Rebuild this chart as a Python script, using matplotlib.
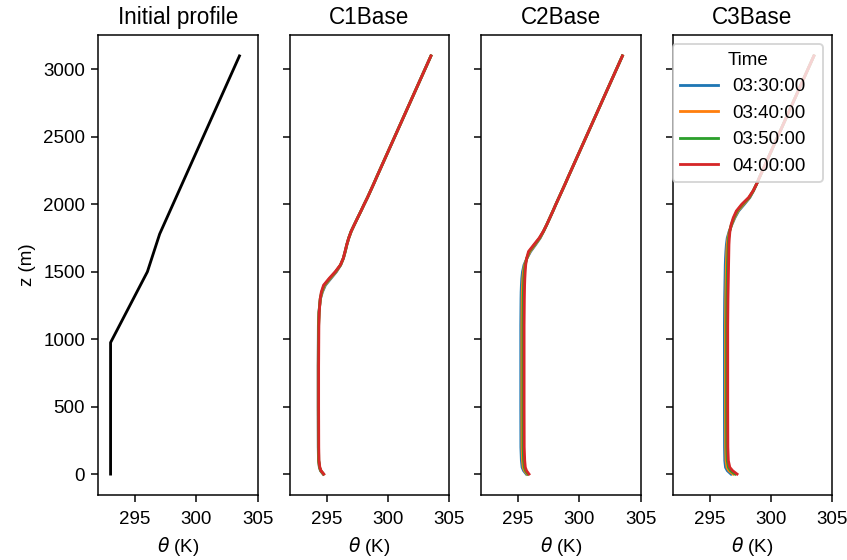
import matplotlib
matplotlib.use("Agg")
import matplotlib.pyplot as plt

plt.rcParams['font.family'] = ['Liberation Sans', 'DejaVu Sans']

# ---- data -------------------------------------------------------------
z_init = [0, 975, 1500, 1780, 3100]
theta_init = [293.0, 293.0, 296.0, 297.0, 303.5]

z_levels = [0, 25, 50, 100, 200, 500, 800, 1100, 1200, 1300, 1350, 1400, 1450,
            1500, 1550, 1600, 1650, 1700, 1750, 1800, 1850, 1900, 1950, 2000,
            2050, 2100, 2150, 2200, 3100]

times = ["03:30:00", "03:40:00", "03:50:00", "04:00:00"]
cases = ["C1Base", "C2Base", "C3Base"]

c1_0330 = [294.72, 294.50, 294.41, 294.34, 294.32, 294.31, 294.31, 294.33, 294.37, 294.50, 294.66, 294.90, 295.35, 295.80, 296.15, 296.37, 296.52, 296.65, 296.81, 297.01, 297.27, 297.53, 297.80, 298.06, 298.33, 298.58, 298.83, 299.07, 303.50]
c1_0340 = [294.73, 294.52, 294.42, 294.35, 294.33, 294.32, 294.32, 294.34, 294.38, 294.49, 294.63, 294.85, 295.30, 295.77, 296.14, 296.37, 296.52, 296.65, 296.81, 297.01, 297.27, 297.53, 297.80, 298.06, 298.33, 298.58, 298.83, 299.07, 303.50]
c1_0350 = [294.75, 294.53, 294.43, 294.36, 294.34, 294.33, 294.33, 294.35, 294.39, 294.48, 294.60, 294.80, 295.25, 295.73, 296.13, 296.36, 296.51, 296.64, 296.80, 297.00, 297.26, 297.53, 297.80, 298.06, 298.33, 298.58, 298.83, 299.07, 303.50]
c1_0400 = [294.77, 294.55, 294.45, 294.38, 294.36, 294.35, 294.35, 294.37, 294.40, 294.48, 294.57, 294.75, 295.20, 295.70, 296.12, 296.36, 296.50, 296.64, 296.80, 297.00, 297.26, 297.53, 297.80, 298.06, 298.33, 298.58, 298.83, 299.07, 303.50]

c2_0330 = [295.67, 295.45, 295.33, 295.27, 295.23, 295.22, 295.22, 295.22, 295.23, 295.24, 295.25, 295.27, 295.30, 295.36, 295.48, 295.72, 296.02, 296.42, 296.80, 297.08, 297.34, 297.59, 297.84, 298.08, 298.33, 298.58, 298.83, 299.07, 303.50]
c2_0340 = [295.74, 295.53, 295.42, 295.36, 295.32, 295.31, 295.31, 295.31, 295.32, 295.33, 295.34, 295.36, 295.39, 295.44, 295.53, 295.72, 295.97, 296.38, 296.78, 297.08, 297.34, 297.59, 297.84, 298.08, 298.33, 298.58, 298.83, 299.07, 303.50]
c2_0350 = [295.81, 295.61, 295.51, 295.45, 295.41, 295.40, 295.40, 295.40, 295.41, 295.42, 295.43, 295.45, 295.47, 295.51, 295.57, 295.71, 295.91, 296.33, 296.75, 297.07, 297.34, 297.59, 297.84, 298.08, 298.33, 298.58, 298.83, 299.07, 303.50]
c2_0400 = [295.89, 295.69, 295.59, 295.54, 295.50, 295.49, 295.49, 295.49, 295.50, 295.51, 295.52, 295.53, 295.55, 295.58, 295.62, 295.70, 295.85, 296.28, 296.72, 297.06, 297.34, 297.59, 297.84, 298.08, 298.33, 298.58, 298.83, 299.07, 303.50]

c3_0330 = [296.75, 296.45, 296.30, 296.24, 296.22, 296.21, 296.21, 296.21, 296.22, 296.23, 296.24, 296.25, 296.26, 296.27, 296.28, 296.30, 296.33, 296.37, 296.44, 296.60, 296.82, 297.06, 297.36, 297.83, 298.28, 298.58, 298.83, 299.07, 303.50]
c3_0340 = [296.92, 296.58, 296.42, 296.34, 296.31, 296.30, 296.30, 296.30, 296.31, 296.32, 296.33, 296.34, 296.35, 296.36, 296.37, 296.39, 296.41, 296.44, 296.50, 296.62, 296.80, 297.02, 297.30, 297.76, 298.25, 298.57, 298.83, 299.07, 303.50]
c3_0350 = [297.08, 296.72, 296.54, 296.44, 296.40, 296.39, 296.39, 296.39, 296.40, 296.41, 296.42, 296.43, 296.44, 296.45, 296.46, 296.48, 296.50, 296.52, 296.56, 296.64, 296.78, 296.98, 297.24, 297.69, 298.22, 298.56, 298.83, 299.07, 303.50]
c3_0400 = [297.24, 296.88, 296.65, 296.53, 296.49, 296.48, 296.48, 296.48, 296.49, 296.50, 296.51, 296.52, 296.53, 296.54, 296.55, 296.56, 296.57, 296.58, 296.61, 296.66, 296.76, 296.93, 297.18, 297.62, 298.18, 298.55, 298.83, 299.07, 303.50]

case_profiles = {
    "C1Base": [c1_0330, c1_0340, c1_0350, c1_0400],
    "C2Base": [c2_0330, c2_0340, c2_0350, c2_0400],
    "C3Base": [c3_0330, c3_0340, c3_0350, c3_0400],
}

x_ticks = [295, 300, 305]
y_ticks = [0, 500, 1000, 1500, 2000, 2500, 3000]

# ---- figure -----------------------------------------------------------
fig, axes = plt.subplots(1, 4, sharey=True, figsize=(847 / 135, 560 / 135), dpi=135)
fig.subplots_adjust(left=98.3 / 847, right=832.3 / 847, bottom=1 - 495 / 560,
                    top=1 - 35 / 560, wspace=0.2)

ax = axes[0]
ax.plot(theta_init, z_init, color="black")
ax.set_title("Initial profile")
ax.set_ylabel("z (m)")

for ax, case in zip(axes[1:], cases):
    for t, prof in zip(times, case_profiles[case]):
        ax.plot(prof, z_levels, label=t)
    ax.set_title(case)

for ax in axes:
    ax.set_xlim(292, 305)
    ax.set_xticks(x_ticks)
    ax.tick_params(axis="x", pad=5.0)
    ax.set_xlabel(r"$\theta$ (K)")
axes[0].set_yticks(y_ticks)

axes[3].legend(title="Time", loc="upper left", bbox_to_anchor=(0.0, 0.0, 0.94, 0.98),
               mode="expand", borderaxespad=0)

fig.savefig("out.png", dpi=135)
